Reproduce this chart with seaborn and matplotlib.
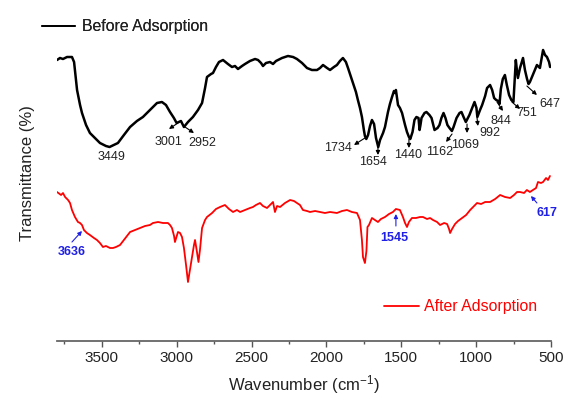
import numpy as np
import pandas as pd
import matplotlib
matplotlib.use("Agg")
import matplotlib.pyplot as plt
from matplotlib.lines import Line2D
from matplotlib.ticker import MultipleLocator
import seaborn as sns

# FTIR spectra (wavenumber in cm-1, transmittance in arbitrary units)
before_wn = [3800, 3780, 3760, 3733, 3700, 3686, 3666, 3646, 3633, 3606,
             3580, 3546, 3513, 3473, 3449, 3393, 3353, 3312, 3266, 3226,
             3179, 3132, 3099, 3072, 3045, 3019, 3001, 2972, 2952, 2925,
             2892, 2858, 2831, 2811, 2798, 2771, 2758, 2738, 2718, 2691,
             2658, 2631, 2611, 2591, 2564, 2544, 2511, 2477, 2457, 2437,
             2424, 2404, 2377, 2357, 2337, 2297, 2257, 2223, 2197, 2163,
             2130, 2097, 2063, 2043, 2023, 1996, 1976, 1950, 1930, 1910,
             1890, 1870, 1856, 1836, 1823, 1803, 1790, 1776, 1763, 1750,
             1743, 1734, 1722, 1709, 1696, 1682, 1669, 1654, 1642, 1622,
             1609, 1589, 1576, 1562, 1549, 1542, 1536, 1522, 1509, 1495,
             1475, 1462, 1449, 1440, 1425, 1412, 1399, 1385, 1378, 1372,
             1365, 1345, 1332, 1312, 1298, 1278, 1258, 1245, 1232, 1218,
             1205, 1192, 1178, 1162, 1151, 1131, 1111, 1098, 1084, 1069,
             1045, 1032, 1011, 998, 992, 974, 960, 940, 927, 907,
             893, 880, 866, 853, 844, 835, 822, 808, 795, 780,
             765, 751, 735, 728, 721, 707, 687, 674, 660, 650,
             641, 627, 607, 594, 574, 553, 540, 527, 513, 506]
before_t = [281, 283, 282, 284, 284, 279, 251, 236, 228, 216,
            208, 203, 198, 195, 194, 198, 206, 214, 220, 224,
            231, 238, 239, 236, 229, 223, 218, 220, 214, 219,
            224, 231, 238, 253, 264, 267, 268, 274, 279, 281,
            277, 274, 275, 272, 275, 277, 280, 282, 281, 278,
            275, 278, 279, 277, 280, 283, 285, 284, 282, 278,
            273, 271, 271, 273, 276, 273, 271, 274, 276, 280,
            283, 279, 273, 264, 258, 249, 241, 233, 224, 211,
            205, 202, 206, 215, 221, 217, 203, 194, 201, 208,
            214, 229, 237, 244, 250, 248, 251, 236, 233, 228,
            216, 209, 204, 202, 209, 221, 224, 223, 211, 216,
            223, 228, 229, 226, 223, 211, 213, 216, 223, 228,
            223, 216, 213, 210, 214, 223, 228, 229, 224, 219,
            226, 231, 239, 233, 224, 231, 236, 245, 253, 256,
            251, 243, 241, 240, 237, 252, 262, 266, 256, 246,
            241, 239, 281, 271, 263, 273, 283, 271, 262, 257,
            259, 264, 271, 276, 273, 291, 286, 284, 279, 274]

after_wn = [3800, 3773, 3760, 3746, 3726, 3713, 3700, 3680, 3660, 3646,
            3633, 3620, 3600, 3580, 3553, 3533, 3513, 3493, 3473, 3446,
            3426, 3406, 3379, 3353, 3332, 3312, 3279, 3246, 3212, 3179,
            3159, 3125, 3092, 3059, 3045, 3032, 3018, 3012, 2998, 2992,
            2978, 2965, 2952, 2938, 2925, 2912, 2898, 2885, 2878, 2865,
            2855, 2845, 2831, 2811, 2798, 2764, 2738, 2711, 2678, 2651,
            2624, 2598, 2577, 2544, 2511, 2491, 2471, 2444, 2424, 2397,
            2377, 2357, 2344, 2330, 2310, 2277, 2243, 2217, 2197, 2177,
            2157, 2130, 2110, 2076, 2043, 2010, 1976, 1930, 1896, 1863,
            1830, 1796, 1776, 1763, 1756, 1743, 1733, 1726, 1716, 1696,
            1676, 1656, 1636, 1609, 1582, 1556, 1536, 1509, 1489, 1475,
            1462, 1449, 1429, 1402, 1375, 1355, 1328, 1308, 1288, 1261,
            1241, 1214, 1194, 1181, 1174, 1161, 1141, 1121, 1094, 1067,
            1040, 1020, 994, 967, 940, 907, 873, 840, 807, 773,
            747, 727, 707, 680, 661, 641, 620, 600, 587, 567,
            553, 533, 520, 507]
after_t = [149, 146, 148, 144, 141, 138, 131, 124, 119, 118,
           116, 111, 108, 106, 103, 101, 98, 94, 95, 93,
           93, 94, 96, 101, 105, 109, 111, 113, 115, 116,
           118, 119, 118, 118, 116, 113, 105, 99, 106, 109,
           108, 104, 93, 76, 59, 71, 84, 96, 101, 89,
           79, 91, 113, 121, 124, 128, 132, 134, 136, 132,
           129, 131, 129, 131, 133, 134, 136, 138, 135, 133,
           136, 139, 129, 135, 134, 138, 141, 140, 138, 136,
           131, 130, 129, 130, 129, 128, 129, 128, 130, 131,
           129, 128, 121, 101, 84, 78, 90, 114, 116, 123,
           121, 119, 122, 124, 127, 129, 132, 131, 124, 118,
           114, 119, 123, 123, 124, 124, 122, 123, 121, 119,
           116, 118, 117, 112, 108, 112, 117, 120, 123, 126,
           131, 134, 138, 137, 139, 139, 142, 146, 144, 143,
           146, 149, 149, 148, 151, 149, 151, 153, 159, 158,
           159, 163, 161, 165]

# peak labels: text, text position, arrow point on curve, arrow head
before_labels = ["3449", "3001", "2952", "1734", "1654", "1440",
                 "1162", "1069", "992", "844", "751", "647"]
before_label_pos = [(3439, 184), (3058, 199), (2832, 198), (1923, 193),
                    (1689, 179), (1455, 186), (1242, 189), (1075, 196),
                    (908, 208), (834, 220), (660, 228), (507, 237)]
before_arrow_curve = [None, (2992, 218), (2945, 214), (1743, 203),
                      (1656, 195), (1449, 202), (1161, 207), (1061, 217),
                      (994, 223), (861, 239), (761, 239), (661, 255)]
before_arrow_head = [None, (3052, 212), (2885, 208), (1816, 196),
                     (1656, 186), (1449, 193), (1201, 199), (1061, 208),
                     (988, 215), (821, 230), (707, 232), (594, 246)]

after_labels = ["3636", "1545", "617"]
after_label_pos = [(3700, 89), (1549, 103), (527, 128)]
after_arrow_tail = [(3700, 99), (1536, 115), (634, 145)]
after_arrow_tip = [(3633, 110), (1536, 127), (594, 138)]
after_head_at_tip = [True, True, False]

sns.set_style("ticks")
plt.rcParams["font.family"] = ["Liberation Sans", "DejaVu Sans"]
plt.rcParams["mathtext.default"] = "regular"

fig = plt.figure(figsize=(5.74, 4.03), dpi=100)
ax = fig.add_axes([57 / 574, 62 / 403, 494 / 574, 336 / 403])

before_df = pd.DataFrame({"wn": before_wn, "t": before_t})
after_df = pd.DataFrame({"wn": after_wn, "t": after_t})
sns.lineplot(data=before_df, x="wn", y="t", color="black", lw=1.8,
             estimator=None, sort=False, ax=ax)
sns.lineplot(data=after_df, x="wn", y="t", color="#ff0000", lw=1.3,
             estimator=None, sort=False, ax=ax)

ax.set_xlim(3800, 500)
ax.set_ylim(0, 336)
ax.xaxis.set_major_locator(MultipleLocator(500))
ax.xaxis.set_minor_locator(MultipleLocator(250))
ax.tick_params(axis="x", which="major", length=4, width=1, colors="#555555",
               labelcolor="#222222", labelsize=11, pad=3)
ax.tick_params(axis="x", which="minor", length=2.5, width=1, colors="#555555")
ax.set_yticks([])
sns.despine(ax=ax, left=True)
ax.spines["bottom"].set_color("#666666")
ax.spines["bottom"].set_linewidth(1.3)

ax.set_xlabel("Wavenumber (cm$^{-1}$)", fontsize=12, color="#222222", labelpad=6)
ax.set_ylabel("Transmittance (%)", fontsize=12, color="#222222", labelpad=16)

arrow_kw = dict(lw=0.8, mutation_scale=6, shrinkA=0, shrinkB=0)
for i, lab in enumerate(before_labels):
    ax.text(*before_label_pos[i], lab, fontsize=9, color="#222222",
            ha="center", va="center")
    if before_arrow_curve[i] is not None:
        ax.annotate("", xy=before_arrow_curve[i], xytext=before_arrow_head[i],
                    arrowprops=dict(arrowstyle="<|-", color="black", **arrow_kw))

for i, lab in enumerate(after_labels):
    ax.text(*after_label_pos[i], lab, fontsize=9, color="#1f1fe6",
            fontweight="bold", ha="center", va="center")
    style = "-|>" if after_head_at_tip[i] else "<|-"
    ax.annotate("", xy=after_arrow_tip[i], xytext=after_arrow_tail[i],
                arrowprops=dict(arrowstyle=style, color="#1f1fe6", **arrow_kw))

leg1 = fig.legend(handles=[Line2D([], [], color="black", lw=1.3)],
                  labels=["Before Adsorption"], loc="center left",
                  bbox_to_anchor=(42 / 574, 1 - 27 / 403), frameon=False,
                  fontsize=11.4, handlelength=2.1, handletextpad=0.45,
                  borderpad=0, borderaxespad=0, labelcolor="#222222")
leg2 = fig.legend(handles=[Line2D([], [], color="#ff0000", lw=1.3)],
                  labels=["After Adsorption"], loc="center left",
                  bbox_to_anchor=(384 / 574, 1 - 307 / 403), frameon=False,
                  fontsize=11.4, handlelength=2.2, handletextpad=0.35,
                  borderpad=0, borderaxespad=0, labelcolor="#ff0000")
fig.add_artist(leg1)

fig.savefig("out.png", dpi=100)
